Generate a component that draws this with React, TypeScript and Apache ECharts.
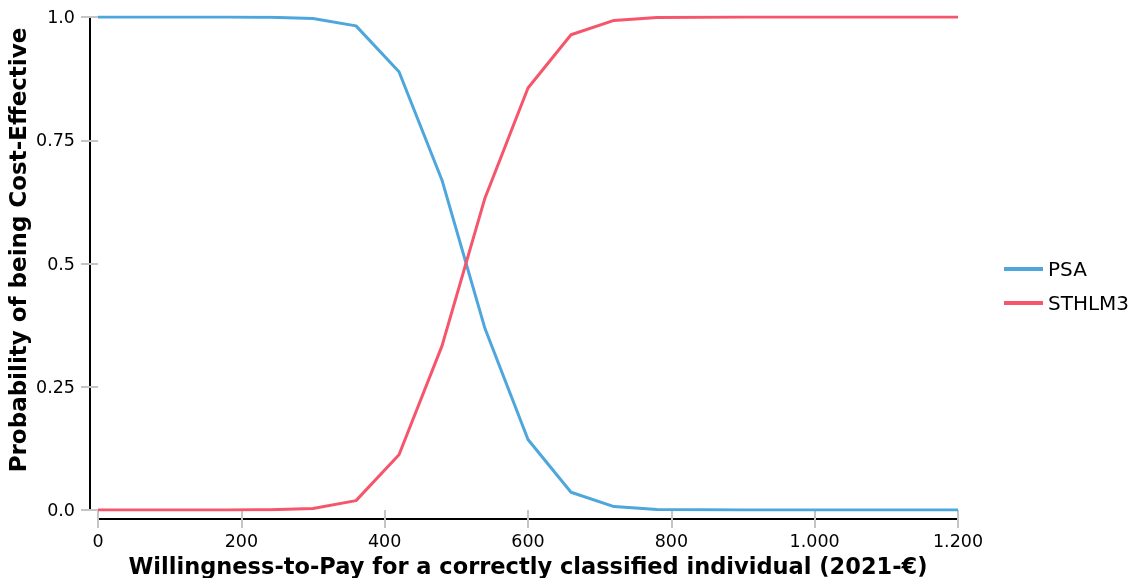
import React, { useEffect, useRef } from "react";
import * as echarts from "echarts";

const wtp = [0, 60, 120, 180, 240, 300, 360, 420, 480, 540, 600, 660, 720, 780, 840, 900, 960, 1020, 1080, 1140, 1200];
const psa = [1, 1, 1, 1, 0.9995, 0.997, 0.982, 0.889, 0.669, 0.368, 0.143, 0.036, 0.007, 0.001, 0.0005, 0, 0, 0, 0, 0, 0];
const sthlm3 = [0, 0, 0, 0, 0.0005, 0.003, 0.019, 0.112, 0.333, 0.633, 0.856, 0.964, 0.993, 0.999, 0.9995, 1, 1, 1, 1, 1, 1];
const seriesNames = ["PSA", "STHLM3"];
const yTickLabels: Record<string, string> = { "0": "0.0", "0.25": "0.25", "0.5": "0.5", "0.75": "0.75", "1": "1.0" };
const xTitle = "Willingness-to-Pay for a correctly classified individual (2021-€)";
const yTitle = "Probability of being Cost-Effective";

const FONT = "DejaVu Sans";
const BLUE = "#4da6dc";
const RED = "#f5566c";
const TICK = "#c4c4c4";

export default function App() {
  const ref = useRef<HTMLDivElement>(null);
  useEffect(() => {
    if (!ref.current) return;
    const chart = echarts.init(ref.current, null, { renderer: "svg" });
    const fmtX = (v: number) => String(v).replace(/\B(?=(\d{3})+(?!\d))/g, ".");
    chart.setOption({
      animation: false,
      textStyle: { fontFamily: FONT, color: "#000" },
      grid: { left: 98, right: 174, top: 17, bottom: 68, containLabel: false, outerBoundsMode: "none" },
      legend: {
        orient: "vertical",
        left: 999,
        top: 254,
        icon: "rect",
        itemWidth: 39,
        itemHeight: 4,
        itemGap: 14,
        textStyle: { fontFamily: FONT, fontSize: 20, color: "#000" },
        data: seriesNames,
      },
      graphic: [
        {
          type: "text",
          x: 18,
          y: 250,
          rotation: Math.PI / 2,
          style: {
            text: yTitle,
            fontFamily: FONT,
            fontSize: 23,
            fontWeight: "bold",
            fill: "#000",
            align: "center",
            verticalAlign: "middle",
          },
        },
      ],
      xAxis: [
        {
          type: "value",
          min: 0,
          max: 1200,
          interval: 200,
          offset: 9,
          axisLine: { show: true, onZero: false, lineStyle: { color: "#000", width: 2 } },
          axisTick: { show: true, length: 9, lineStyle: { color: TICK, width: 2 } },
          axisLabel: { fontFamily: FONT, fontSize: 17.5, color: "#000", margin: 13, formatter: fmtX },
          splitLine: { show: false },
          name: xTitle,
          nameLocation: "middle",
          nameGap: 29,
          nameTextStyle: { fontFamily: FONT, fontSize: 22.5, fontWeight: "bold", color: "#000" },
        },
        {
          type: "value",
          min: 0,
          max: 1200,
          interval: 200,
          position: "bottom",
          offset: 0,
          axisLine: { show: false, onZero: false },
          axisTick: { show: true, length: 9, lineStyle: { color: TICK, width: 2 } },
          axisLabel: { show: false },
          splitLine: { show: false },
        },
      ],
      yAxis: [
        {
          type: "value",
          min: 0,
          max: 1,
          interval: 0.25,
          offset: 8,
          axisLine: { show: true, onZero: false, lineStyle: { color: "#000", width: 2 } },
          axisTick: { show: true, length: 9, lineStyle: { color: TICK, width: 2 } },
          axisLabel: {
            fontFamily: FONT,
            fontSize: 17.5,
            color: "#000",
            margin: 15,
            formatter: (v: number) => yTickLabels[String(v)] ?? String(v),
          },
          splitLine: { show: false },
        },
        {
          type: "value",
          min: 0,
          max: 1,
          interval: 0.25,
          position: "left",
          offset: 0,
          axisLine: { show: false, onZero: false },
          axisTick: { show: true, length: 8, lineStyle: { color: TICK, width: 2 } },
          axisLabel: { show: false },
          splitLine: { show: false },
        },
      ],
      series: [
        {
          name: seriesNames[0],
          type: "line",
          data: wtp.map((x, i) => [x, psa[i]]),
          showSymbol: false,
          symbol: "none",
          lineStyle: { color: BLUE, width: 3 },
          itemStyle: { color: BLUE },
        },
        {
          name: seriesNames[1],
          type: "line",
          data: wtp.map((x, i) => [x, sthlm3[i]]),
          showSymbol: false,
          symbol: "none",
          lineStyle: { color: RED, width: 3 },
          itemStyle: { color: RED },
        },
      ],
    });
    return () => chart.dispose();
  }, []);
  return <div ref={ref} style={{ position: "fixed", left: 0, top: 0, width: 1132, height: 578 }} />;
}
